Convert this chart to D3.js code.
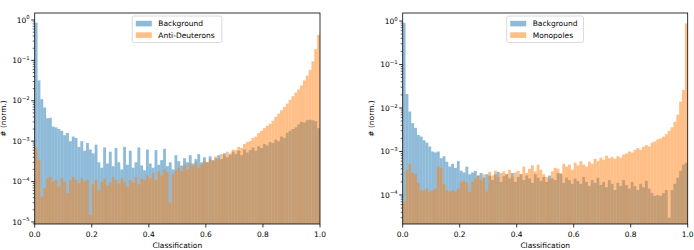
<!DOCTYPE html>
<html><head><meta charset="utf-8">
<script src="https://cdn.jsdelivr.net/npm/d3@7"></script>
<style>body{margin:0;background:#fff} text{font-family:"DejaVu Sans",sans-serif;fill:#000}</style>
</head><body><svg id="c" width="694" height="250"></svg>
<script>
// ---- data (100 bins over [0,1], normalised counts) ----
const backgroundAD = [
0.86,0.032,0.011,0.0068,0.0037,0.0038,0.0023,0.0022,0.0020,0.0018,
0.0014,0.0016,0.0010,0.0013,0.0012,0.00072,0.0010,0.00058,0.00090,0.00062,
0.00050,0.00082,0.00030,0.00022,0.00070,0.00028,0.00055,0.00024,0.00068,0.00030,
0.00020,0.00072,0.00026,0.00058,0.00022,0.00030,0.00070,0.00025,0.00019,0.00062,
0.00028,0.00022,0.00060,0.00026,0.00034,0.00065,0.00024,0.00030,0.00020,0.00045,
0.00032,0.00025,0.00038,0.00030,0.00045,0.00028,0.00036,0.00048,0.00030,0.00040,
0.00030,0.00042,0.00034,0.00038,0.00045,0.00036,0.00050,0.00040,0.00046,0.00055,
0.00048,0.00058,0.00045,0.00062,0.00052,0.00060,0.00070,0.00058,0.00075,0.00068,
0.00085,0.00078,0.00095,0.00090,0.0011,0.0010,0.0013,0.0012,0.0016,0.0018,
0.0020,0.0022,0.0026,0.0030,0.0029,0.0033,0.0034,0.0033,0.0031,0.0021];
const antiDeuterons = [
0.00070,0.00034,0.000042,0.000070,0.00012,0.00013,0.00010,0.00011,0.000075,0.00012,
0.00010,0.000052,0.00011,0.00013,0.00011,0.000090,0.00012,0.00010,0.00011,0.000015,
0.000085,0.00011,0.000060,0.00010,0.00012,0.000080,0.000095,0.00013,0.00011,0.000090,
0.00012,0.00010,0.000075,0.00011,0.000095,0.00013,0.000085,0.00012,0.00011,0.00014,
0.00012,0.00016,0.00011,0.00018,0.00014,0.00020,0.00017,0.000030,0.00015,0.00019,
0.00022,0.00018,0.00026,0.00020,0.00028,0.00024,0.00030,0.00022,0.00027,0.00032,
0.00030,0.00036,0.00032,0.00042,0.00036,0.00048,0.00044,0.00055,0.00050,0.00062,
0.00060,0.00072,0.00068,0.00085,0.00095,0.00100,0.0012,0.0013,0.0016,0.0018,
0.0021,0.0024,0.0027,0.0032,0.0040,0.0048,0.0058,0.0070,0.0085,0.0105,
0.013,0.016,0.019,0.024,0.032,0.042,0.058,0.095,0.19,0.43];
const backgroundMP = [
0.91,0.021,0.0083,0.0045,0.0035,0.0024,0.0022,0.0018,0.0016,0.0013,
0.0010,0.00095,0.0010,0.00070,0.00078,0.00058,0.00045,0.00052,0.00042,0.00060,
0.00036,0.00033,0.00045,0.00030,0.00033,0.00036,0.00028,0.00032,0.00025,0.00030,
0.00028,0.00022,0.00030,0.00034,0.00020,0.00027,0.00030,0.00024,0.00032,0.00020,
0.00026,0.00030,0.00022,0.00028,0.00024,0.00019,0.00030,0.00025,0.00021,0.00026,
0.00020,0.00028,0.00024,0.00022,0.00032,0.00030,0.00019,0.00025,0.00022,0.00018,
0.00024,0.00021,0.00018,0.00026,0.00020,0.00016,0.00022,0.00019,0.00025,0.00017,
0.00020,0.00015,0.00022,0.00018,0.00013,0.00019,0.00016,0.00022,0.00017,0.00014,
0.00020,0.00016,0.00013,0.00018,0.00015,0.00021,0.00014,0.00011,0.000095,0.00010,
0.000095,0.00011,0.00013,0.000030,0.00013,0.00018,0.00025,0.00036,0.00050,0.00055];
const monopoles = [
0.000070,0.00037,0.00052,0.00032,0.00030,0.00019,0.00013,0.00013,0.00014,0.00012,
0.00013,0.00014,0.00045,0.00042,0.00018,0.00013,0.00012,0.00013,0.00012,0.00014,
0.00020,0.00021,0.00019,0.00012,0.00020,0.00024,0.00028,0.00022,0.00030,0.00012,
0.00034,0.00028,0.00036,0.00026,0.00032,0.00035,0.00030,0.00038,0.00026,0.00033,
0.00036,0.00030,0.00045,0.00032,0.00040,0.00048,0.00035,0.00050,0.00038,0.00030,
0.00026,0.00024,0.00035,0.00042,0.00040,0.00032,0.00052,0.00045,0.00050,0.00038,
0.00055,0.00048,0.00060,0.00050,0.00045,0.00058,0.00052,0.00068,0.00060,0.00072,
0.00065,0.00080,0.00070,0.00075,0.00068,0.00078,0.00072,0.00085,0.00090,0.0010,
0.00095,0.0011,0.0012,0.0011,0.0013,0.0014,0.0013,0.0016,0.0017,0.0019,
0.0020,0.0022,0.0025,0.0030,0.0036,0.0048,0.0070,0.014,0.026,0.88];
const legend1 = ["Background","Anti-Deuterons"];
const legend2 = ["Background","Monopoles"];
const xTickValues = [0,0.2,0.4,0.6,0.8,1.0];
const yTickExp1 = [0,-1,-2,-3,-4,-5];
const yTickExp2 = [0,-1,-2,-3,-4];
const xLabel = "Classification";
const yLabel = "# (norm.)";

const svg = d3.select("#c");
const colors = ["#1f77b4","#ff7f0e"];
const FS = 7.5;

function panel(cfg){
  const {x0,x1,y0,y1,ydom,bg,sig,names,exps,ylabX,legX,legW,id} = cfg;
  const xs = d3.scaleLinear().domain([0,1]).range([x0,x1]);
  const ys = d3.scaleLog().domain(ydom).range([y1,y0]);
  const g = svg.append("g");
  g.append("clipPath").attr("id",id).append("rect").attr("x",x0).attr("y",y0).attr("width",x1-x0).attr("height",y1-y0);
  const bars = g.append("g").attr("clip-path",`url(#${id})`);
  [bg,sig].forEach((arr,k)=>{
    bars.append("g").selectAll("rect").data(arr).join("rect")
      .attr("x",(d,i)=>xs(i/100))
      .attr("width",(d,i)=>xs((i+1)/100)-xs(i/100))
      .attr("y",d=>ys(d))
      .attr("height",d=>y1-ys(d))
      .attr("fill",colors[k]).attr("fill-opacity",0.5);
  });
  // x axis ticks
  const xa = g.append("g");
  xTickValues.forEach(v=>{
    xa.append("line").attr("x1",xs(v)).attr("x2",xs(v)).attr("y1",y1).attr("y2",y1+3.5).attr("stroke","#000").attr("stroke-width",0.8);
    xa.append("text").attr("x",xs(v)).attr("y",y1+13).attr("text-anchor","middle").attr("font-size",FS).text(d3.format(".1f")(v));
  });
  g.append("text").attr("x",(x0+x1)/2).attr("y",248).attr("text-anchor","middle").attr("font-size",FS).text(xLabel);
  // y axis ticks
  const [lo,hi] = ydom;
  for(let e=Math.floor(Math.log10(lo)); e<=Math.ceil(Math.log10(hi)); e++){
    for(let m=2;m<=9;m++){
      const v=m*Math.pow(10,e);
      if(v>=lo && v<=hi) g.append("line").attr("x1",x0).attr("x2",x0-2).attr("y1",ys(v)).attr("y2",ys(v)).attr("stroke","#000").attr("stroke-width",0.6);
    }
  }
  exps.forEach(e=>{
    const y=ys(Math.pow(10,e));
    g.append("line").attr("x1",x0).attr("x2",x0-3.5).attr("y1",y).attr("y2",y).attr("stroke","#000").attr("stroke-width",0.8);
    const t=g.append("text").attr("x",x0-5).attr("y",y+2.7).attr("text-anchor","end").attr("font-size",FS);
    t.append("tspan").text("10");
    t.append("tspan").attr("dy",-3.2).attr("font-size",5.3).text(e===0?"0":"\u2212"+(-e));
  });
  g.append("text").attr("transform",`translate(${ylabX},${(y0+y1)/2}) rotate(-90)`).attr("text-anchor","middle").attr("font-size",FS).text(yLabel);
  // frame
  g.append("rect").attr("x",x0).attr("y",y0).attr("width",x1-x0).attr("height",y1-y0).attr("fill","none").attr("stroke","#000").attr("stroke-width",0.8);
  // legend
  const lg = g.append("g");
  lg.append("rect").attr("x",legX).attr("y",16).attr("width",legW).attr("height",26.5).attr("rx",2)
    .attr("fill","#fff").attr("fill-opacity",0.8).attr("stroke","#d0d0d0").attr("stroke-width",0.8);
  names.forEach((n,k)=>{
    const yy = 20.8 + k*11.5;
    lg.append("rect").attr("x",legX+3.5).attr("y",yy).attr("width",16).attr("height",5.6).attr("fill",colors[k]).attr("fill-opacity",0.5);
    lg.append("text").attr("x",legX+26).attr("y",yy+5.5).attr("font-size",FS).text(n);
  });
}

panel({x0:34.7,x1:320,y0:13,y1:224,ydom:[8.9e-6,1.49],bg:backgroundAD,sig:antiDeuterons,names:legend1,exps:yTickExp1,ylabX:6,legX:132.3,legW:89.5,id:"cp1"});
panel({x0:402.7,x1:687.7,y0:13,y1:224,ydom:[2.15e-5,1.53],bg:backgroundMP,sig:monopoles,names:legend2,exps:yTickExp2,ylabX:374,legX:506.7,legW:76.8,id:"cp2"});
</script></body></html>
